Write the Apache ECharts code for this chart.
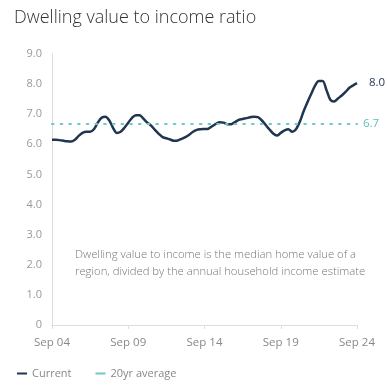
<!DOCTYPE html>
<html><head><meta charset="utf-8">
<script src="https://cdn.jsdelivr.net/npm/echarts@6/dist/echarts.min.js"></script>
<style>html,body{margin:0;padding:0;background:#fff}#c{width:387px;height:388px}</style>
</head><body><div id="c"></div>
<script>
const title = "Dwelling value to income ratio";
const note = "Dwelling value to income is the median home value of a\nregion, divided by the annual household income estimate";
const xLabels = ["Sep 04","Sep 09","Sep 14","Sep 19","Sep 24"];
const current = [6.15,6.15,6.14,6.12,6.10,6.09,6.15,6.28,6.38,6.42,
6.42,6.50,6.72,6.88,6.92,6.80,6.55,6.38,6.42,6.55,
6.72,6.88,6.97,6.97,6.85,6.72,6.62,6.48,6.35,6.24,
6.20,6.16,6.12,6.13,6.18,6.24,6.32,6.42,6.48,6.50,
6.51,6.52,6.60,6.68,6.73,6.72,6.67,6.67,6.74,6.81,
6.84,6.87,6.90,6.92,6.90,6.80,6.65,6.50,6.36,6.29,
6.38,6.46,6.50,6.42,6.50,6.75,7.10,7.40,7.68,7.95,
8.10,8.10,7.80,7.48,7.42,7.52,7.62,7.74,7.88,7.96,8.03];
const avg20 = 6.7;

const chart = echarts.init(document.getElementById('c'));
const cats = current.map((v,i)=>i);
chart.setOption({
  animation:false,
  title:{text:title,left:9,top:4,textStyle:{fontFamily:'Open Sans',fontWeight:300,fontSize:18,color:'#333'}},
  graphic:[{type:'text',left:75,top:246,style:{text:note,font:'300 11.3px "Open Sans"',fill:'#777',lineHeight:17}}],
  legend:{left:12,bottom:4,itemWidth:10,itemHeight:2,itemGap:24,icon:'rect',
    textStyle:{fontFamily:'Open Sans',fontSize:11,color:'#888'},
    data:['Current','20yr average']},
  grid:{left:52,right:30,top:54,bottom:63},
  xAxis:{type:'category',data:cats,boundaryGap:false,
    axisLine:{lineStyle:{color:'#ddd'}},
    axisTick:{interval:function(i){return i%20===0;},length:4,lineStyle:{color:'#ddd'}},
    axisLabel:{interval:function(i){return i%20===0;},formatter:function(v,i){return xLabels[i/20];},color:'#888',fontFamily:'Open Sans',fontSize:11.5,margin:12}},
  yAxis:{type:'value',min:0,max:9,interval:1,splitLine:{show:false},
    axisLine:{show:true,lineStyle:{color:'#ddd'}},axisTick:{show:false},
    axisLabel:{formatter:function(v){return v===0?'0':v.toFixed(1);},color:'#999',fontFamily:'Open Sans',fontSize:11,margin:10}},
  series:[
    {name:'Current',type:'line',data:current,showSymbol:false,smooth:0.3,
     lineStyle:{color:'#1f3550',width:2.5},itemStyle:{color:'#1f3550'},
     endLabel:{show:true,formatter:function(p){return p.value.toFixed(1);},color:'#1f3550',fontFamily:'Open Sans',fontSize:11.5,offset:[4,0]},z:3},
    {name:'20yr average',type:'line',data:[],itemStyle:{color:'#6cc9c6'},lineStyle:{color:'#6cc9c6'},
     markLine:{silent:true,symbol:'none',data:[{yAxis:avg20}],
       lineStyle:{type:[1.5,7.2],width:2.2,color:'#6cc9c6',cap:'round'},
       label:{position:'end',formatter:function(){return avg20.toFixed(1);},color:'#5cc0bd',fontFamily:'Open Sans',fontSize:11.5,distance:6}},z:2}
  ]
});
</script></body></html>
